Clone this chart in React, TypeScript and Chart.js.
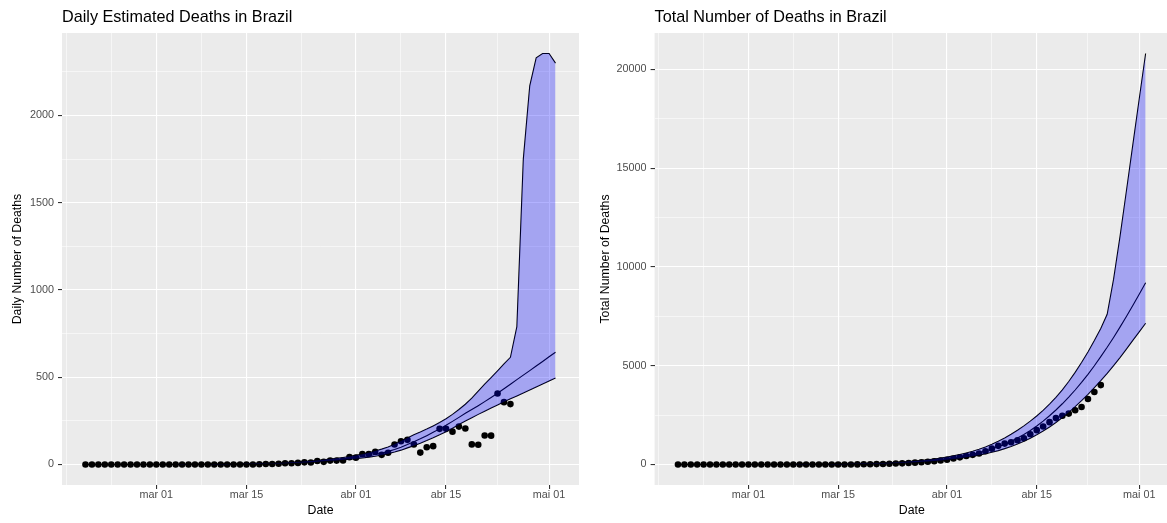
import React, { useEffect, useRef } from 'react';
import { Chart, registerables } from 'chart.js';

Chart.register(...registerables);

const FONT = '"Liberation Sans", Arial, Helvetica, sans-serif';
Chart.defaults.font.family = FONT;

// ---- dates (one per day, 2020-02-19 .. 2020-05-02) ----
const startDate = '2020-02-19';
const nDays = 74;
const dates: string[] = [];
for (let i = 0; i < nDays; i++) {
  dates.push(new Date(Date.parse(startDate) + i * 86400000).toISOString().slice(0, 10));
}
const dayIndex = (iso: string) => (Date.parse(iso) - Date.parse(startDate)) / 86400000;

// ---- axis ticks ----
const xTickDates = ['2020-03-01', '2020-03-15', '2020-04-01', '2020-04-15', '2020-05-01'];
const xTickLabels = ['mar 01', 'mar 15', 'abr 01', 'abr 15', 'mai 01'];
const dailyTicks = [0, 500, 1000, 1500, 2000];
const totalTicks = [0, 5000, 10000, 15000, 20000];

// ---- observed data (2020-02-19 .. 2020-04-25) ----
const observedDaily = [
  0, 0, 0, 0, 0, 0, 0, 0, 0, 0, 0,
  0, 0, 0, 0, 0, 0, 0, 0, 0, 0, 0, 0, 0, 0, 0, 0,
  1, 3, 3, 4, 7, 7, 9, 12, 11, 20, 15, 22, 22, 23, 42,
  39, 59, 60, 72, 55, 67, 114, 133, 141, 115,
  68, 99, 105, 204, 204, 188, 217, 206, 115, 113,
  166, 165, 407, 357, 346,
];
const observedTotal = [
  0, 0, 0, 0, 0, 0, 0, 0, 0, 0, 0,
  0, 0, 0, 0, 0, 0, 0, 0, 0, 0, 0, 0, 0, 0, 0, 0,
  1, 4, 7, 11, 18, 25, 34, 46, 57, 77, 92, 114, 136, 159, 201,
  240, 299, 359, 431, 486, 553, 667, 800, 941, 1056,
  1124, 1223, 1328, 1532, 1736, 1924, 2141, 2347, 2462, 2575,
  2741, 2906, 3313, 3670, 4016,
];

// ---- model estimates (2020-02-19 .. 2020-05-02) ----
const dailyMid = [
  0, 0, 0, 0, 0, 0, 0, 0, 0, 0, 0,
  0, 0, 0, 0, 0, 1, 1, 1, 1, 1,
  1, 2, 2, 2, 3, 3, 4, 5, 6, 7,
  8, 10, 12, 14, 16, 19, 22, 25, 28, 32, 36,
  40, 44, 50, 57, 65, 75, 86, 99, 114, 130,
  147, 165, 184, 204, 225, 247, 270, 293, 315, 337,
  360, 384, 408, 434, 460, 486, 512, 538, 564, 590,
  617, 643,
];
const dailyLow = [
  0, 0, 0, 0, 0, 0, 0, 0, 0, 0, 0,
  0, 0, 0, 0, 0, 1, 1, 1, 1, 1,
  1, 1, 2, 2, 2, 3, 3, 4, 5, 6,
  7, 8, 10, 11, 13, 16, 18, 21, 23, 27, 30,
  33, 37, 42, 47, 54, 62, 71, 82, 95, 108,
  122, 137, 153, 170, 188, 208, 229, 249, 268, 287,
  305, 323, 341, 359, 376, 393, 410, 427, 444, 461,
  478, 495,
];
const dailyHigh = [
  0, 0, 0, 0, 0, 0, 0, 0, 0, 0, 0,
  0, 0, 0, 0, 1, 1, 1, 1, 1, 2,
  2, 2, 3, 3, 4, 4, 5, 6, 7, 8,
  10, 12, 14, 17, 20, 23, 27, 31, 35, 40, 45,
  52, 59, 67, 77, 88, 100, 116, 135, 152, 170,
  186, 203, 221, 240, 262, 287, 315, 345, 380, 420,
  460, 498, 537, 576, 614, 790, 1750, 2170, 2330, 2355,
  2355, 2300,
];
const totalMid = [
  0, 0, 0, 0, 0, 0, 0, 0, 0, 0, 0,
  0, 0, 0, 0, 0, 1, 2, 3, 4, 5,
  6, 8, 10, 12, 15, 18, 22, 27, 33, 40,
  48, 58, 70, 84, 100, 119, 141, 166, 194, 226, 262,
  302, 346, 396, 453, 518, 593, 679, 778, 892, 1022,
  1169, 1334, 1518, 1722, 1947, 2194, 2464, 2757, 3072, 3409,
  3769, 4153, 4561, 4995, 5455, 5930, 6430, 6950, 7490, 8050,
  8620, 9200,
];
const totalLow = [
  0, 0, 0, 0, 0, 0, 0, 0, 0, 0, 0,
  0, 0, 0, 0, 0, 1, 1, 2, 3, 4,
  5, 6, 8, 10, 12, 15, 18, 22, 27, 33,
  40, 48, 57, 68, 80, 95, 112, 131, 153, 178, 206,
  242, 277, 317, 362, 414, 474, 540, 615, 700, 800,
  905, 1030, 1170, 1325, 1500, 1690, 1900, 2125, 2375, 2640,
  2925, 3230, 3550, 3890, 4240, 4610, 5000, 5410, 5840, 6280,
  6710, 7150,
];
const totalHigh = [
  0, 0, 0, 0, 0, 0, 0, 0, 0, 0, 0,
  0, 0, 0, 0, 1, 2, 3, 4, 5, 7,
  9, 11, 14, 17, 21, 25, 30, 36, 43, 51,
  61, 73, 87, 104, 124, 147, 174, 205, 240, 280, 325,
  377, 436, 503, 580, 668, 768, 884, 1019, 1171, 1341,
  1527, 1730, 1951, 2191, 2453, 2740, 3055, 3400, 3780, 4200,
  4660, 5158, 5695, 6271, 6885, 7600, 9380, 11530, 13840, 16180,
  18500, 20800,
];

// ---- helpers ----
const xMajors = xTickDates.map(dayIndex);
const xSpan = dayIndex(dates[dates.length - 1]) - dayIndex(dates[0]);
const xMin = dayIndex(dates[0]) - 0.05 * xSpan;
const xMax = dayIndex(dates[dates.length - 1]) + 0.05 * xSpan;

function minorList(majors: number[], lo: number, hi: number) {
  const step = majors[1] - majors[0];
  const b = [...majors];
  if (lo < b[0]) b.unshift(b[0] - step);
  if (hi > b[b.length - 1]) b.push(b[b.length - 1] + step);
  const out: number[] = [];
  for (let i = 0; i < b.length; i++) {
    out.push(b[i]);
    if (i < b.length - 1) out.push((b[i] + b[i + 1]) / 2);
  }
  return out.filter((v) => v >= lo && v <= hi);
}

const pts = (vals: number[]) => vals.map((v, i) => ({ x: dayIndex(dates[i]), y: v }));

const panelPlugin = {
  id: 'panel',
  beforeDraw(chart: any) {
    const { ctx, chartArea } = chart;
    ctx.save();
    ctx.fillStyle = '#ebebeb';
    ctx.fillRect(chartArea.left, chartArea.top, chartArea.right - chartArea.left, chartArea.bottom - chartArea.top);
    ctx.restore();
  },
  afterDraw(chart: any, _args: any, opts: any) {
    const { ctx, chartArea } = chart;
    ctx.save();
    ctx.font = `16.2px ${FONT}`;
    ctx.fillStyle = '#000000';
    ctx.textBaseline = 'alphabetic';
    ctx.textAlign = 'left';
    ctx.fillText(opts.title, chartArea.left, 21.5);
    ctx.restore();
  },
};

function makeConfig(o: {
  obs: number[]; lo: number[]; mid: number[]; hi: number[];
  yTicks: number[]; yTitle: string; title: string;
  yAxisWidth: number; padRight: number; yTitlePad: number;
}): any {
  const dataMax = Math.max(...o.hi);
  const yMin = -0.05 * dataMax;
  const yMax = dataMax * 1.05;
  const yAll = minorList(o.yTicks, yMin, yMax);
  const xAll = minorList(xMajors, xMin, xMax);
  const isXMajor = (v: number) => xMajors.some((m) => Math.abs(m - v) < 1e-6);
  const isYMajor = (v: number) => o.yTicks.some((m) => Math.abs(m - v) < 1e-6);
  const tickFont = { family: FONT, size: 10.8 };
  const titleFont = { family: FONT, size: 12.3 };
  return {
    type: 'line',
    data: {
      datasets: [
        { data: pts(o.lo), borderWidth: 0, pointRadius: 0, fill: false, order: 10, borderColor: 'rgba(0,0,0,0)' },
        { data: pts(o.hi), borderWidth: 0, pointRadius: 0, fill: '-1', order: 0, borderColor: 'rgba(0,0,0,0)', backgroundColor: 'rgba(0,0,255,0.3)' },
        { data: pts(o.hi), borderColor: '#000000', borderWidth: 1.1, pointRadius: 0, fill: false, order: 2 },
        { data: pts(o.mid), borderColor: '#000000', borderWidth: 1.1, pointRadius: 0, fill: false, order: 2 },
        { data: pts(o.lo), borderColor: '#000000', borderWidth: 1.1, pointRadius: 0, fill: false, order: 2 },
        { data: pts(o.obs), showLine: false, pointRadius: 3.3, pointBackgroundColor: '#000000', pointBorderColor: '#000000', pointBorderWidth: 0, fill: false, order: 3 },
      ],
    },
    options: {
      responsive: false,
      animation: false,
      events: [],
      layout: { padding: { left: 0, top: 33, right: o.padRight, bottom: 0 } },
      plugins: { legend: { display: false }, tooltip: { enabled: false }, title: { display: false }, panel: { title: o.title } },
      elements: { line: { tension: 0 } },
      scales: {
        x: {
          type: 'linear', min: xMin, max: xMax,
          afterBuildTicks: (s: any) => { s.ticks = xAll.map((v) => ({ value: v })); },
          afterFit: (s: any) => { s.height = 38; },
          ticks: {
            autoSkip: false, maxRotation: 0, padding: 0, color: '#4d4d4d', font: tickFont,
            callback: (v: number) => { const k = xMajors.findIndex((m) => Math.abs(m - v) < 1e-6); return k >= 0 ? xTickLabels[k] : ''; },
          },
          grid: {
            color: '#ffffff',
            lineWidth: (c: any) => (c.tick && isXMajor(c.tick.value) ? 1.1 : 0.55),
            tickColor: (c: any) => (c.tick && isXMajor(c.tick.value) ? '#333333' : 'rgba(0,0,0,0)'),
            tickWidth: 1.1, tickLength: 4, drawTicks: true,
          },
          border: { display: false },
          title: { display: true, text: 'Date', color: '#000000', font: titleFont, padding: { top: 0, bottom: 5 } },
        },
        y: {
          type: 'linear', min: yMin, max: yMax,
          afterBuildTicks: (s: any) => { s.ticks = yAll.map((v) => ({ value: v })); },
          afterFit: (s: any) => { s.width = o.yAxisWidth; },
          ticks: {
            autoSkip: false, padding: 4, color: '#4d4d4d', font: tickFont,
            callback: (v: number) => (isYMajor(v) ? String(v) : ''),
          },
          grid: {
            color: '#ffffff',
            lineWidth: (c: any) => (c.tick && isYMajor(c.tick.value) ? 1.1 : 0.55),
            tickColor: (c: any) => (c.tick && isYMajor(c.tick.value) ? '#333333' : 'rgba(0,0,0,0)'),
            tickWidth: 1.1, tickLength: 4, drawTicks: true,
          },
          border: { display: false },
          title: { display: true, text: o.yTitle, color: '#000000', font: titleFont, padding: { top: o.yTitlePad, bottom: 0 } },
        },
      },
    },
    plugins: [panelPlugin],
  };
}

function Panel({ config, left, width }: { config: any; left: number; width: number }) {
  const ref = useRef<HTMLCanvasElement>(null);
  useEffect(() => {
    const chart = new Chart(ref.current as HTMLCanvasElement, config);
    return () => chart.destroy();
  }, []);
  return (
    <canvas
      ref={ref}
      width={width}
      height={523}
      style={{ position: 'absolute', left, top: 0, width, height: 523, display: 'block' }}
    />
  );
}

export default function App() {
  const dailyConfig = makeConfig({
    obs: observedDaily, lo: dailyLow, mid: dailyMid, hi: dailyHigh,
    yTicks: dailyTicks, yTitle: 'Daily Number of Deaths', title: 'Daily Estimated Deaths in Brazil',
    yAxisWidth: 62, padRight: 3, yTitlePad: 10,
  });
  const totalConfig = makeConfig({
    obs: observedTotal, lo: totalLow, mid: totalMid, hi: totalHigh,
    yTicks: totalTicks, yTitle: 'Total Number of Deaths', title: 'Total Number of Deaths in Brazil',
    yAxisWidth: 71.6, padRight: 3.6, yTitlePad: 15.5,
  });
  return (
    <div style={{ position: 'fixed', left: 0, top: 0, width: 1167, height: 523, background: '#ffffff', overflow: 'hidden' }}>
      <Panel config={dailyConfig} left={0} width={583} />
      <Panel config={totalConfig} left={583} width={590} />
    </div>
  );
}
